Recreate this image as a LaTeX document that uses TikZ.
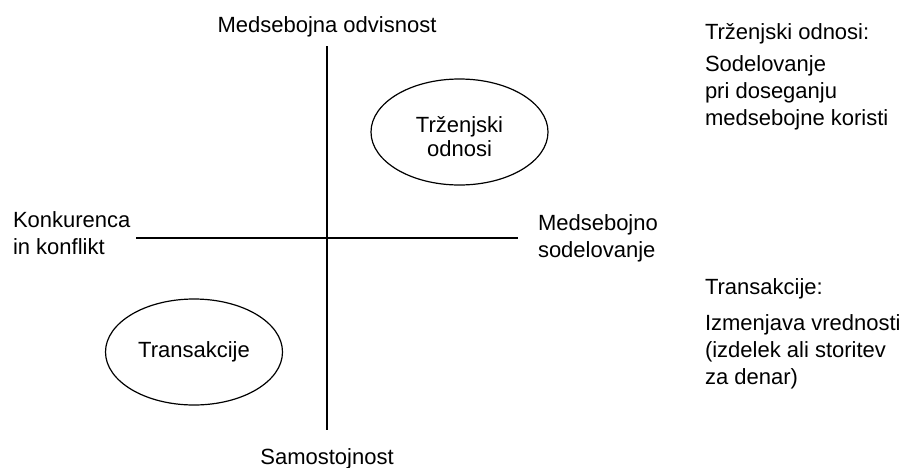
\documentclass[tikz,border=0pt]{standalone}
\usepackage{fontspec}
\setmainfont{Liberation Sans}
\usetikzlibrary{shapes.geometric}

\begin{document}
\begin{tikzpicture}[
  x=0.5pt, y=-0.5pt,
  lbl/.style={inner sep=0pt, outer sep=0pt, font=\fontsize{11}{13.5}\selectfont},
  axis/.style={line width=0.8pt, black},
  oval/.style={draw, ellipse, line width=0.6pt, inner sep=0pt,
               minimum width=88.5pt, minimum height=53pt,
               font=\fontsize{11}{12}\selectfont}
]
\useasboundingbox[fill=white] (0,0) rectangle (900,467);

% axis end points
\coordinate (ntop) at (327,46);
\coordinate (nbot) at (327,430);
\coordinate (wend) at (136,238);
\coordinate (eend) at (518,238);

\draw[axis] (ntop) -- (nbot);
\draw[axis] (wend) -- (eend);

% axis labels (multi-line nodes sit on the baseline of their last line)
\node[lbl, anchor=base] (top) at (327,32) {Medsebojna odvisnost};
\node[lbl, anchor=base] (bot) at (327,464) {Samostojnost};
\node[lbl, anchor=base west, align=left] (west) at (13,254) {Konkurenca\\in konflikt};
\node[lbl, anchor=base west, align=left] (east) at (538,257) {Medsebojno\\sodelovanje};

% quadrant ellipses
\node[oval] (rel) at (459.5,132) {};
\node[lbl, align=center, font=\fontsize{11}{12}\selectfont] (reltxt) at (459.5,137) {Trženjski\\odnosi};
\node[oval] (trans) at (194,352) {Transakcije};

% explanations on the right
\node[lbl, anchor=base west] (h1) at (705,39) {Trženjski odnosi:};
\node[lbl, anchor=base west, align=left] (d1) at (705,125) {Sodelovanje\\pri doseganju\\medsebojne koristi};
\node[lbl, anchor=base west] (h2) at (705,294) {Transakcije:};
\node[lbl, anchor=base west, align=left] (d2) at (705,384) {Izmenjava vrednosti\\(izdelek ali storitev\\za denar)};
\end{tikzpicture}
\end{document}
